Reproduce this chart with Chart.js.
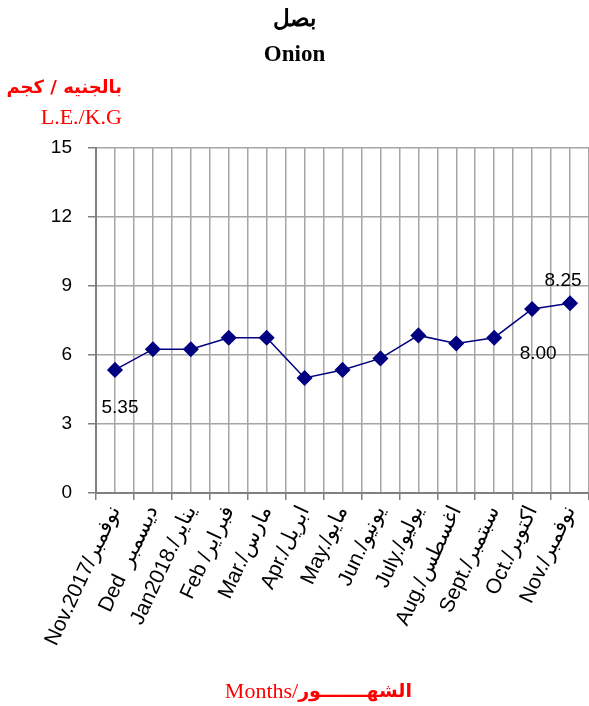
<!DOCTYPE html>
<html>
<head>
<meta charset="utf-8">
<script src="https://cdn.jsdelivr.net/npm/chart.js@4.4.1/dist/chart.umd.min.js"></script>
<style>
html, body { margin: 0; padding: 0; background: #fff; }
</style>
</head>
<body>
<canvas id="myChart"></canvas>
<script>
var months = ['Nov.2017/نوفمبر', 'Ded  ديسمبر', 'Jan2018./يناير', 'Feb /فبراير', 'Mar./مارس', 'Apr./ابريل', 'May./مايو', 'Jun./يونيو', 'July./يوليو', 'Aug./اغسطس', 'Sept./سبتمبر', 'Oct./اكتوبر', 'Nov./نوفمبر']
var prices = [5.35, 6.25, 6.25, 6.75, 6.75, 5.00, 5.35, 5.85, 6.85, 6.50, 6.75, 8.00, 8.25]
var yTicks = [0, 3, 6, 9, 12, 15]
var labelled = [0, 11, 12]

// where each value label sits relative to its point
var labelOffset = { 0: [5, 38], 11: [6, 45], 12: [-7, -22] }

var gridColor = '#a6a6a6'
var axisColor = '#808080'
var lineColor = '#000080'

var ctx = document.getElementById('myChart')
ctx.width = 589
ctx.height = 706

var extras = {
	id: 'extras',
	afterDatasetsDraw: function (chart) {
		var c = chart.ctx
		c.save()
		// y axis unit title
		c.fillStyle = '#ff0000'
		c.textAlign = 'right'
		c.textBaseline = 'middle'
		c.font = 'bold 18px "DejaVu Sans"'
		c.fillText('بالجنيه / كجم', 122, 88)
		c.font = '22px "Liberation Serif"'
		c.fillText('L.E./K.G', 122, 118)
		// x axis title, english and arabic parts
		c.font = 'bold 19px "DejaVu Sans"'
		var ar = 'الشهـــــــور'
		var arW = c.measureText(ar).width
		c.fillText(ar, 412, 692)
		c.font = '22px "Liberation Serif"'
		c.fillText('Months/', 412 - arW, 692)
		// value labels
		var meta = chart.getDatasetMeta(0)
		c.fillStyle = '#000'
		c.textAlign = 'center'
		c.font = '19px "Liberation Sans"'
		labelled.forEach(function (i) {
			var pt = meta.data[i]
			var off = labelOffset[i]
			c.fillText(prices[i].toFixed(2), pt.x + off[0], pt.y + off[1])
		})
		c.restore()
	}
}

var lineChart = new Chart(ctx, {
	type: 'line',
	data: {
		labels: months,
		datasets: [{
			data: prices,
			borderColor: lineColor,
			backgroundColor: lineColor,
			borderWidth: 1.5,
			pointStyle: 'rectRot',
			pointRadius: 7,
			pointHoverRadius: 7,
			tension: 0,
			fill: false,
		}]
	},
	options: {
		responsive: false,
		animation: false,
		layout: { padding: 0, autoPadding: false },
		plugins: {
			legend: { display: false },
			tooltip: { enabled: false },
			title: {
				display: true,
				text: ['بصل', 'Onion'],
				color: '#000',
				font: { family: 'Liberation Serif', size: 23, weight: 'bold', lineHeight: 1.52 },
				padding: { top: 3, bottom: 75 },
			},
		},
		scales: {
			x: {
				type: 'category',
				offset: true,
				grid: { offset: true, color: gridColor, lineWidth: 1.5, tickLength: 7, tickColor: axisColor },
				border: { color: axisColor, width: 2 },
				ticks: {
					color: '#000',
					font: { family: 'Liberation Sans', size: 21 },
					minRotation: 65,
					maxRotation: 65,
					padding: 2,
					autoSkip: false,
				},
				afterFit: function (s) {
					s.height = 213
					s.paddingLeft = 0
					s.paddingRight = 0
				},
			},
			x2: {
				type: 'category',
				labels: months,
				offset: true,
				position: 'bottom',
				grid: { offset: false, color: gridColor, lineWidth: 1.5, drawTicks: false },
				border: { display: false },
				ticks: { display: false },
				afterFit: function (s) {
					s.height = 0
					s.paddingLeft = 0
					s.paddingRight = 0
				},
			},
			y: {
				min: 0,
				max: 15,
				afterBuildTicks: function (s) { s.ticks = yTicks.map(function (v) { return { value: v } }) },
				grid: { color: gridColor, lineWidth: 1.5, tickLength: 8, tickColor: axisColor },
				border: { color: axisColor, width: 2 },
				ticks: { color: '#000', font: { family: 'Liberation Sans', size: 19 }, padding: 16 },
				afterFit: function (s) { s.width = 96 },
			},
		},
	},
	plugins: [extras],
})
</script>
</body>
</html>
